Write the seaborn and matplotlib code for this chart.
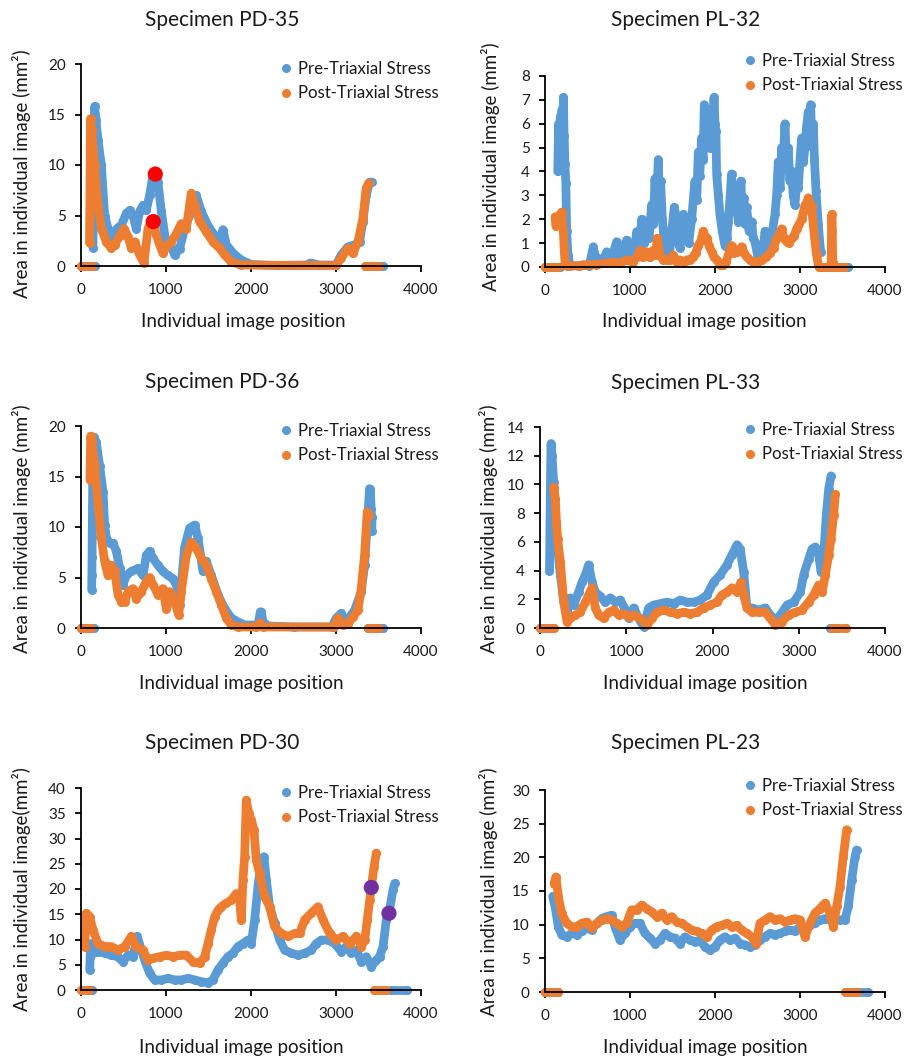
import numpy as np
import pandas as pd
import matplotlib
matplotlib.use("Agg")
import matplotlib.pyplot as plt
import seaborn as sns
from matplotlib.lines import Line2D

# ---------------- data ----------------
titles = ["Specimen PD-35", "Specimen PL-32", "Specimen PD-36",
          "Specimen PL-33", "Specimen PD-30", "Specimen PL-23"]
legend_labels = ["Pre-Triaxial Stress", "Post-Triaxial Stress"]
x_label = "Individual image position"
y_labels = ["Area in individual image (mm²)"] * 4 + ["Area in individual image(mm²)",
                                                       "Area in individual image (mm²)"]
x_ticks = [0, 1000, 2000, 3000, 4000]
y_maxes = [20, 8, 20, 14, 40, 30]
y_steps = [5, 1, 5, 2, 5, 5]

# (position, area) points; None separates disconnected runs
pd35_pre = [(0, 0), (170, 0), None,
            (140, 1.8), (150, 9.0), (161, 15.8), (175, 14.5), (200, 12.5), (239, 10.0), (278, 5.0),
            (318, 3.7), (357, 3.0), (396, 3.4), (435, 3.8), (474, 4.0), (533, 5.2), (572, 5.5),
            (612, 5.0), (650, 3.7), (690, 5.4), (729, 6.0), (768, 5.5), (807, 7.0), (847, 9.0),
            (874, 9.1), (905, 8.3), (945, 5.4), (992, 2.7), (1043, 2.4), (1100, 1.1), (1160, 1.7),
            (1219, 3.7), (1297, 5.4), (1356, 7.0), (1415, 5.4), (1494, 4.0), (1572, 3.0),
            (1631, 2.7), (1670, 3.6), (1709, 2.1), (1807, 1.1), (1886, 0.6), (2003, 0.15),
            (2300, 0.05), (2650, 0.1), (2700, 0.3), (2800, 0.1), (3000, 0.1), (3062, 1.1),
            (3140, 1.9), (3219, 2.1), (3277, 2.4), (3316, 4.4), (3355, 7.0), (3395, 8.3),
            (3422, 8.3), None,
            (3380, 0), (3550, 0)]
pd35_post = [(0, 0), (130, 0), None,
             (100, 2.3), (104, 6.0), (108, 10.0), (112, 14.6), (125, 13.5), (161, 10.0), (200, 6.0),
             (239, 3.7), (298, 2.4), (357, 1.75), (396, 2.1), (455, 3.0), (506, 3.7), (553, 2.9),
             (592, 1.75), (631, 2.4), (690, 1.1), (741, 0.3), (788, 3.7), (827, 4.4), (850, 4.4),
             (886, 3.1), (925, 2.1), (964, 1.25), (1004, 1.9), (1062, 2.4), (1121, 3.2),
             (1180, 4.2), (1239, 3.7), (1297, 7.2), (1337, 6.0), (1395, 4.4), (1474, 3.4),
             (1552, 2.4), (1631, 1.75), (1690, 1.1), (1768, 0.4), (1886, 0.1), (2500, 0.05),
             (3000, 0.05), (3062, 0.8), (3140, 1.75), (3199, 1.25), (3258, 2.4), (3316, 4.7),
             (3355, 7.7), (3383, 8.2), None,
             (3340, 0), (3500, 0)]
pd35_marks = [(874, 9.1), (850, 4.4)]

pl32_pre = [(0, 0), (180, 0), None,
            (150, 4.0), (160, 6.0), (170, 4.5), (180, 6.3), (190, 5.0), (200, 6.6), (210, 4.8),
            (216, 7.1), (225, 5.5), (235, 4.3), (245, 3.5), (255, 1.5), (270, 0.5), (294, 0.05),
            (400, 0.05), (450, 0.1), (520, 0.05), (568, 0.85), (600, 0.3), (627, 0.36),
            (680, 0.2), (725, 0.64), (780, 0.3), (843, 1.06), (870, 0.3), (902, 0.78),
            (930, 0.4), (960, 1.13), (990, 0.5), (1019, 0.64), (1050, 0.4), (1078, 1.48),
            (1110, 0.8), (1137, 2.0), (1165, 1.0), (1196, 1.76), (1225, 1.2), (1254, 2.6),
            (1275, 1.8), (1294, 3.7), (1310, 2.5), (1333, 4.5), (1345, 2.8), (1360, 3.6),
            (1380, 2.0), (1400, 1.2), (1431, 0.5), (1460, 0.4), (1490, 1.5), (1521, 2.5),
            (1549, 2.0), (1570, 1.0), (1588, 0.8), (1610, 1.8), (1627, 2.2), (1645, 1.2),
            (1666, 1.76), (1690, 1.0), (1725, 2.0), (1745, 2.8), (1764, 3.6), (1785, 2.8),
            (1803, 4.8), (1820, 3.8), (1842, 5.4), (1860, 4.5), (1874, 6.8), (1890, 5.5),
            (1921, 6.4), (1940, 5.0), (1960, 6.6), (1975, 5.2), (1988, 7.1), (2000, 6.0),
            (2011, 5.7), (2019, 3.9), (2040, 3.0), (2058, 2.2), (2085, 1.5), (2117, 0.9),
            (2140, 1.2), (2156, 1.9), (2175, 2.8), (2195, 3.9), (2215, 2.6), (2235, 3.4),
            (2255, 2.5), (2274, 1.9), (2290, 2.6), (2305, 3.6), (2320, 2.2), (2340, 2.9),
            (2355, 1.8), (2372, 2.5), (2400, 1.5), (2431, 1.9), (2450, 1.2), (2470, 1.06),
            (2500, 0.5), (2529, 0.64), (2560, 0.4), (2588, 1.5), (2620, 0.7), (2646, 1.06),
            (2675, 1.5), (2705, 2.2), (2725, 3.0), (2744, 4.4), (2765, 3.3), (2784, 5.0),
            (2800, 4.2), (2823, 6.0), (2840, 4.5), (2862, 5.0), (2880, 3.6), (2901, 4.0),
            (2920, 3.0), (2940, 2.6), (2960, 3.5), (2980, 3.3), (3000, 4.5), (3019, 5.4),
            (3040, 4.4), (3058, 5.0), (3075, 5.8), (3097, 6.5), (3110, 5.5), (3125, 6.8),
            (3140, 5.2), (3156, 6.0), (3170, 4.5), (3188, 3.2), (3215, 1.8), (3242, 0.64), None,
            (3250, 0), (3560, 0)]
pl32_post = [(0, 0), (150, 0), None,
             (118, 2.1), (130, 1.7), (140, 2.1), (157, 1.9), (175, 2.2), (196, 2.3), (205, 1.8),
             (216, 1.5), (225, 0.8), (235, 0.2), (255, 0.05), (400, 0.05), (500, 0.1), (600, 0.1),
             (700, 0.15), (804, 0.2), (880, 0.15), (960, 0.3), (1030, 0.2), (1078, 0.4),
             (1117, 0.7), (1150, 0.4), (1196, 0.64), (1230, 0.4), (1274, 0.7), (1300, 0.5),
             (1321, 1.2), (1352, 0.5), (1390, 0.3), (1431, 0.3), (1470, 0.3), (1509, 0.5),
             (1550, 0.2), (1588, 0.3), (1630, 0.2), (1666, 0.3), (1710, 0.3), (1745, 0.43),
             (1775, 0.6), (1803, 0.9), (1835, 1.1), (1862, 1.5), (1880, 1.3), (1901, 1.2),
             (1930, 0.9), (1960, 0.64), (1990, 0.4), (2019, 0.3), (2060, 0.1), (2097, 0.08),
             (2130, 0.2), (2156, 0.5), (2175, 0.7), (2195, 0.9), (2220, 0.6), (2254, 0.64),
             (2285, 0.7), (2313, 0.85), (2340, 0.6), (2372, 0.43), (2410, 0.3), (2450, 0.2),
             (2500, 0.2), (2548, 0.3), (2600, 0.4), (2646, 0.57), (2690, 0.8), (2725, 1.2),
             (2750, 1.3), (2784, 1.6), (2810, 1.2), (2842, 1.06), (2870, 1.0), (2901, 1.2),
             (2930, 1.3), (2960, 1.6), (2990, 1.8), (3019, 2.0), (3040, 2.3), (3058, 2.6),
             (3080, 2.7), (3097, 2.9), (3115, 2.7), (3137, 2.5), (3155, 1.8), (3176, 1.06),
             (3195, 0.5), (3215, 0.1), (3230, 0), None,
             (3220, 0), (3520, 0), None,
             (3365, 0), (3370, 1.2), (3375, 2.2), (3380, 1.5), (3385, 0.2)]

pd36_pre = [(0, 0), (150, 0), None,
            (125, 3.8), (128, 5.2), (130, 7.0), (132, 9.0), (135, 12.0), (138, 15.0), (141, 18.7),
            (150, 18.9), (180, 18.4), (220, 16.0), (259, 13.5), (278, 10.2), (298, 8.9), (337, 8.4),
            (376, 8.4), (416, 7.6), (455, 5.9), (494, 4.3), (533, 5.2), (592, 5.6), (670, 5.9),
            (729, 5.2), (768, 7.2), (807, 7.6), (847, 6.9), (906, 6.2), (964, 5.6), (1023, 5.2),
            (1082, 4.9), (1141, 3.9), (1160, 2.3), (1200, 6.2), (1219, 8.0), (1278, 9.9),
            (1337, 10.2), (1376, 8.9), (1435, 5.6), (1474, 6.6), (1533, 5.2), (1611, 3.3),
            (1690, 1.9), (1768, 1.0), (1847, 0.6), (1925, 0.3), (2082, 0.3), (2110, 1.6),
            (2121, 1.6), (2141, 0.6), (2200, 0.2), (2500, 0.1), (2950, 0.1), (3003, 1.0),
            (3062, 1.45), (3101, 0.6), (3160, 1.1), (3219, 1.75), (3297, 3.6), (3336, 6.2),
            (3367, 10.2), (3395, 13.8), (3405, 13.5), (3414, 11.8), (3420, 9.6), (3425, 11.0), None,
            (3380, 0), (3550, 0)]
pd36_post = [(0, 0), (120, 0), None,
             (105, 14.7), (110, 17.0), (114, 19.0), (125, 18.5), (161, 16.1), (200, 12.2),
             (239, 8.9), (278, 6.6), (318, 5.2), (357, 6.2), (396, 5.6), (435, 3.3), (474, 2.6),
             (514, 2.6), (553, 3.6), (612, 3.9), (651, 2.9), (710, 3.6), (768, 4.6), (807, 5.0),
             (847, 4.3), (906, 3.3), (964, 3.9), (1004, 1.9), (1043, 3.6), (1102, 2.6),
             (1149, 1.3), (1180, 3.6), (1239, 7.2), (1297, 8.5), (1356, 7.9), (1415, 6.9),
             (1474, 6.2), (1533, 4.9), (1592, 3.6), (1651, 2.3), (1709, 1.0), (1768, 0.3),
             (1847, 0.1), (2060, 0.1), (2101, 0.5), (2140, 0.1), (2980, 0.1), (3023, 1.0),
             (3082, 0.3), (3140, 0.4), (3199, 1.1), (3258, 1.75), (3297, 3.9), (3336, 7.2),
             (3367, 11.5), (3383, 11.2), None,
             (3380, 0), (3500, 0)]

pl33_pre = [(0, 0), (150, 0), None,
            (110, 4.0), (113, 5.5), (116, 7.5), (120, 9.5), (124, 11.5), (128, 12.85), (140, 12.0),
            (158, 10.2), (178, 7.9), (205, 5.5), (236, 3.7), (275, 1.8), (313, 1.1), (352, 2.1),
            (390, 1.6), (448, 2.5), (487, 3.2), (526, 3.7), (564, 4.4), (603, 3.2), (642, 2.5),
            (700, 2.2), (758, 1.8), (816, 2.1), (874, 1.8), (932, 1.95), (978, 1.4), (1028, 0.67),
            (1086, 1.4), (1144, 0.67), (1202, 0.1), (1260, 1.4), (1318, 1.6), (1395, 1.7),
            (1472, 1.8), (1550, 1.7), (1627, 1.95), (1704, 1.8), (1781, 1.8), (1859, 1.95),
            (1936, 2.3), (2013, 3.2), (2090, 3.7), (2168, 4.4), (2226, 5.1), (2284, 5.8),
            (2322, 5.5), (2361, 3.9), (2400, 1.4), (2458, 1.4), (2535, 1.25), (2612, 1.4),
            (2670, 0.9), (2728, 0.55), (2786, 0.9), (2864, 1.6), (2941, 1.8), (3018, 2.5),
            (3057, 3.7), (3115, 4.8), (3153, 5.5), (3192, 5.65), (3231, 5.1), (3258, 3.9),
            (3289, 5.1), (3320, 7.9), (3347, 9.7), (3374, 10.6), None,
            (3360, 0), (3440, 0)]
pl33_post = [(0, 0), (160, 0), None,
             (158, 9.8), (178, 9.0), (190, 7.4), (205, 6.2), (236, 4.6), (275, 1.8), (313, 0.45),
             (352, 0.67), (410, 0.9), (468, 1.1), (526, 1.8), (564, 2.3), (603, 2.8), (642, 1.4),
             (680, 0.9), (739, 0.67), (797, 1.1), (855, 1.25), (913, 0.9), (971, 1.0), (1028, 0.8),
             (1086, 0.9), (1163, 0.67), (1241, 0.2), (1299, 0.67), (1357, 1.1), (1434, 1.25),
             (1511, 1.1), (1588, 1.0), (1666, 1.1), (1743, 1.0), (1820, 1.1), (1898, 1.4),
             (1975, 1.6), (2052, 1.8), (2110, 2.3), (2168, 2.5), (2226, 2.8), (2284, 2.5),
             (2330, 3.2), (2361, 2.3), (2400, 1.4), (2458, 1.1), (2535, 1.1), (2612, 1.1),
             (2670, 0.67), (2728, 0.2), (2805, 0.45), (2883, 0.9), (2960, 1.1), (3037, 1.25),
             (3115, 1.8), (3173, 2.3), (3231, 3.0), (3270, 2.5), (3309, 3.7), (3347, 5.1),
             (3374, 6.2), (3405, 7.9), (3424, 9.3), None,
             (3390, 0), (3550, 0)]

pd30_pre = [(80, 0), (125, 0), None,
            (102, 4.0), (108, 6.5), (114, 9.2), (141, 7.3), (200, 7.6), (278, 7.3), (357, 6.9),
            (435, 6.6), (494, 5.6), (553, 6.9), (612, 6.6), (662, 10.6), (710, 7.9), (749, 5.9),
            (808, 3.3), (866, 2.0), (945, 2.0), (1023, 2.3), (1102, 2.0), (1180, 2.0), (1259, 2.3),
            (1337, 2.0), (1415, 1.65), (1494, 1.45), (1552, 2.0), (1611, 4.0), (1670, 5.3),
            (1729, 6.6), (1788, 7.3), (1847, 8.6), (1905, 9.2), (1964, 9.9), (2003, 9.2),
            (2043, 13.9), (2082, 20.5), (2121, 25.7), (2152, 26.4), (2180, 21.8), (2219, 16.5),
            (2278, 13.2), (2337, 9.9), (2396, 7.9), (2474, 7.3), (2553, 6.9), (2631, 7.3),
            (2709, 7.9), (2768, 9.2), (2827, 9.9), (2905, 9.9), (2984, 9.2), (3062, 7.6),
            (3121, 8.6), (3180, 7.3), (3239, 7.9), (3298, 5.6), (3357, 6.6), (3415, 4.6),
            (3474, 5.9), (3513, 6.6), (3553, 8.6), (3592, 13.9), (3623, 15.2), (3670, 19.8),
            (3690, 21.1), None,
            (3650, 0), (3830, 0)]
pd30_post = [(0, 0), (90, 0), None,
             (43, 8.6), (63, 15.2), (102, 14.5), (141, 11.9), (200, 9.2), (278, 8.6), (357, 8.6),
             (435, 7.9), (514, 8.6), (592, 10.6), (651, 8.6), (729, 7.9), (788, 5.9), (847, 6.3),
             (925, 6.6), (1004, 6.9), (1082, 6.6), (1160, 6.9), (1239, 6.9), (1317, 5.6),
             (1396, 5.3), (1455, 6.6), (1494, 9.2), (1533, 11.9), (1572, 14.5), (1611, 15.8),
             (1651, 16.5), (1709, 17.2), (1768, 17.8), (1827, 19.1), (1866, 17.8), (1886, 13.9),
             (1905, 21.8), (1925, 26.4), (1945, 37.6), (1972, 35.0), (2003, 33.7), (2035, 31.7),
             (2062, 25.7), (2101, 23.1), (2160, 18.5), (2219, 16.5), (2278, 12.5), (2356, 11.2),
             (2435, 10.6), (2513, 11.2), (2572, 11.2), (2631, 13.9), (2709, 15.2), (2788, 16.5),
             (2847, 13.9), (2925, 11.2), (3003, 9.9), (3082, 10.6), (3160, 9.2), (3239, 10.6),
             (3298, 8.6), (3337, 9.9), (3368, 13.9), (3396, 17.8), (3415, 20.3), (3447, 24.4),
             (3474, 27.1), None,
             (3450, 0), (3590, 0)]
pd30_marks = [(3415, 20.3), (3623, 15.2)]

pl23_pre = [(0, 0), (150, 0), None,
            (90, 14.2), (118, 12.7), (157, 9.7), (196, 8.5), (255, 8.2), (314, 8.7), (373, 8.5),
            (431, 9.0), (490, 9.5), (549, 9.2), (608, 10.2), (666, 10.9), (725, 11.2), (784, 11.4),
            (823, 9.7), (882, 7.7), (941, 8.7), (1000, 9.7), (1058, 10.2), (1117, 10.2),
            (1176, 8.7), (1235, 8.0), (1294, 7.2), (1352, 7.7), (1411, 8.7), (1470, 8.2),
            (1529, 8.0), (1588, 7.2), (1647, 8.2), (1705, 7.7), (1764, 7.5), (1823, 7.7),
            (1882, 6.7), (1941, 6.2), (2000, 6.7), (2058, 7.7), (2117, 8.2), (2176, 7.7),
            (2235, 8.0), (2294, 7.2), (2352, 7.0), (2411, 6.7), (2470, 7.0), (2529, 7.7),
            (2588, 8.2), (2647, 8.7), (2705, 8.5), (2764, 8.7), (2823, 9.0), (2882, 9.2),
            (2941, 9.0), (3000, 9.7), (3058, 9.5), (3117, 9.9), (3176, 10.2), (3235, 10.7),
            (3294, 10.9), (3352, 10.7), (3411, 10.9), (3470, 10.7), (3529, 10.7), (3568, 12.7),
            (3607, 16.6), (3647, 20.1), (3666, 21.1), None,
            (3550, 0), (3800, 0)]
pl23_post = [(0, 0), (157, 0), None,
             (106, 16.1), (129, 17.1), (157, 14.2), (196, 11.7), (255, 10.2), (314, 9.7),
             (373, 9.7), (431, 10.2), (490, 10.4), (549, 9.5), (608, 10.2), (666, 10.7),
             (725, 10.9), (784, 10.7), (843, 10.2), (902, 9.7), (960, 10.2), (1019, 12.2),
             (1078, 12.2), (1137, 12.9), (1196, 12.4), (1254, 11.9), (1313, 11.2), (1372, 11.7),
             (1431, 10.7), (1490, 11.2), (1549, 10.4), (1607, 10.2), (1666, 9.7), (1725, 9.2),
             (1784, 9.0), (1843, 8.7), (1902, 8.2), (1960, 9.2), (2019, 9.7), (2078, 9.9),
             (2137, 10.2), (2196, 9.7), (2254, 9.9), (2313, 9.2), (2372, 8.7), (2431, 8.2),
             (2482, 7.2), (2529, 10.2), (2588, 10.7), (2647, 11.2), (2705, 10.7), (2764, 10.9),
             (2823, 10.4), (2882, 10.7), (2941, 10.9), (3000, 10.7), (3058, 8.2), (3117, 10.2),
             (3176, 11.7), (3235, 12.4), (3294, 13.2), (3352, 11.7), (3392, 9.7), (3431, 12.7),
             (3470, 15.6), (3509, 20.1), (3549, 24.1), None,
             (3530, 0), (3666, 0)]

pre_series = [pd35_pre, pl32_pre, pd36_pre, pl33_pre, pd30_pre, pl23_pre]
post_series = [pd35_post, pl32_post, pd36_post, pl33_post, pd30_post, pl23_post]
marks = [pd35_marks, None, None, None, pd30_marks, None]

# ---------------- styling / layout ----------------
BLUE = "#5B9BD5"
ORANGE = "#ED7D31"
MARK_COLORS = ["#FF0000", None, None, None, "#7030A0", None]
TEXT = "#1a1a1a"

W, H = 906, 1056
# axes rectangles in pixels: (left, right, y_of_zero, y_of_top)
ax_px = [(81, 421, 266, 64), (545, 885, 267, 76),
         (81, 421, 628, 426), (540, 885, 628, 427),
         (81, 421, 990, 788), (545, 885, 992, 790)]
title_px = [(222, 20), (686, 20), (222, 382), (686, 383), (222, 743), (686, 743)]
xlabel_px = [(243, 322), (704, 322), (241, 683), (705, 683), (241, 1047), (705, 1047)]
ylabel_px = [(22, 174), (490, 167), (22, 529), (488, 529), (22, 889), (488, 892)]
legend_px = [(286, 69), (750, 61), (286, 431), (750, 430), (286, 793), (750, 786)]

sns.set_theme(style="ticks")
plt.rcParams["font.family"] = ["Lato", "DejaVu Sans"]

fig = plt.figure(figsize=(W / 100, H / 100), dpi=100)
fig.patch.set_facecolor("white")


def to_frame(points):
    rows = []
    seg = 0
    for p in points:
        if p is None:
            seg += 1
            continue
        rows.append((p[0], p[1], seg))
    return pd.DataFrame(rows, columns=["pos", "area", "seg"])


for i in range(6):
    l, r, y0, yt = ax_px[i]
    ax = fig.add_axes([l / W, (H - y0) / H, (r - l) / W, (y0 - yt) / H])
    ax.set_facecolor("white")
    for pts, col in [(pre_series[i], BLUE), (post_series[i], ORANGE)]:
        df = to_frame(pts)
        sns.lineplot(data=df, x="pos", y="area", units="seg", estimator=None, sort=False,
                     color=col, lw=6.3, marker="o", markersize=6.5, markeredgewidth=0,
                     solid_capstyle="round", solid_joinstyle="round",
                     ax=ax, legend=False, clip_on=False)
    if marks[i] is not None:
        mdf = pd.DataFrame(marks[i], columns=["pos", "area"])
        sns.scatterplot(data=mdf, x="pos", y="area", color=MARK_COLORS[i], s=120,
                        edgecolor="none", ax=ax, zorder=6, clip_on=False, legend=False)

    ax.set_xlim(0, 4000)
    ax.set_ylim(0, y_maxes[i])
    ax.set_xticks(x_ticks)
    ax.set_yticks(np.arange(0, y_maxes[i] + 0.001, y_steps[i]))
    ax.set_xlabel("")
    ax.set_ylabel("")
    sns.despine(ax=ax)
    for s in ["left", "bottom"]:
        ax.spines[s].set_color("black")
        ax.spines[s].set_linewidth(1.3)
    ax.tick_params(axis="both", direction="out", length=4, width=1.3, color="black",
                   labelsize=11, labelcolor=TEXT)
    ax.tick_params(axis="x", pad=8)
    ax.tick_params(axis="y", pad=7)

    handles = [Line2D([], [], ls="", marker="o", markersize=6.5, markeredgewidth=0, color=BLUE),
               Line2D([], [], ls="", marker="o", markersize=6.5, markeredgewidth=0, color=ORANGE)]
    lx, ly = legend_px[i]
    leg = ax.legend(handles, legend_labels, loc="upper left",
                    bbox_to_anchor=((lx - 6) / W, (H - ly + 8) / H),
                    bbox_transform=fig.transFigure, frameon=False, fontsize=12.1,
                    handlelength=0.75, handletextpad=0.35, borderpad=0, borderaxespad=0,
                    labelspacing=0.5)
    for t in leg.get_texts():
        t.set_color(TEXT)

    tx, ty = title_px[i]
    fig.text(tx / W, (H - ty) / H, titles[i], ha="center", va="center",
             fontsize=15, color=TEXT)
    xx, xy = xlabel_px[i]
    fig.text(xx / W, (H - xy) / H, x_label, ha="center", va="center",
             fontsize=13.5, color=TEXT)
    yx, yy = ylabel_px[i]
    fig.text(yx / W, (H - yy) / H, y_labels[i], ha="center", va="center",
             rotation=90, fontsize=13.5, color=TEXT)

fig.savefig("out.png", dpi=100, facecolor="white")
